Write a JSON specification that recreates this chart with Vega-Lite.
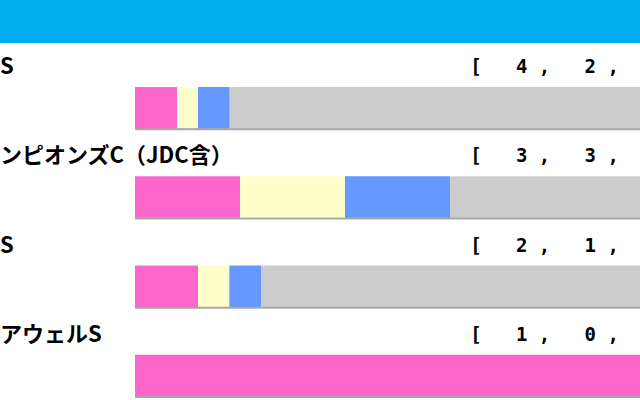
{
  "$schema": "https://vega.github.io/schema/vega-lite/v6.json",
  "padding": 0,
  "spacing": 0,
  "bounds": "flush",
  "background": "#FFFFFF",
  "config": {"view": {"stroke": null}, "concat": {"spacing": 0}},
  "datasets": {
    "segments": [
      {"no": 1, "place": "1着", "rank": 1, "count": 4},
      {"no": 1, "place": "2着", "rank": 2, "count": 2},
      {"no": 1, "place": "3着", "rank": 3, "count": 3},
      {"no": 1, "place": "着外", "rank": 4, "count": 51},
      {"no": 2, "place": "1着", "rank": 1, "count": 3},
      {"no": 2, "place": "2着", "rank": 2, "count": 3},
      {"no": 2, "place": "3着", "rank": 3, "count": 3},
      {"no": 2, "place": "着外", "rank": 4, "count": 9},
      {"no": 3, "place": "1着", "rank": 1, "count": 2},
      {"no": 3, "place": "2着", "rank": 2, "count": 1},
      {"no": 3, "place": "3着", "rank": 3, "count": 1},
      {"no": 3, "place": "着外", "rank": 4, "count": 16},
      {"no": 4, "place": "1着", "rank": 1, "count": 1},
      {"no": 4, "place": "2着", "rank": 2, "count": 0},
      {"no": 4, "place": "3着", "rank": 3, "count": 0},
      {"no": 4, "place": "着外", "rank": 4, "count": 0}
    ],
    "races": [
      {"no": 1, "name": "S", "record": "[\u00a0\u00a0\u00a04\u00a0,\u00a0\u00a0\u00a02\u00a0,"},
      {"no": 2, "name": "ンピオンズC（JDC含）", "record": "[\u00a0\u00a0\u00a03\u00a0,\u00a0\u00a0\u00a03\u00a0,"},
      {"no": 3, "name": "S", "record": "[\u00a0\u00a0\u00a02\u00a0,\u00a0\u00a0\u00a01\u00a0,"},
      {"no": 4, "name": "アウェルS", "record": "[\u00a0\u00a0\u00a01\u00a0,\u00a0\u00a0\u00a00\u00a0,"}
    ]
  },
  "vconcat": [
    {
      "width": 640,
      "height": 43,
      "data": {"values": [{"band": "header"}]},
      "mark": {"type": "rect", "color": "#00ADEE"},
      "encoding": {}
    },
    {
      "width": 640,
      "height": 357,
      "layer": [
        {
          "data": {"name": "races"},
          "mark": {"type": "bar", "height": {"band": 0.46}, "yOffset": 22, "clip": true, "color": "#A8A8A8"},
          "encoding": {
            "y": {"field": "no", "type": "ordinal", "axis": null, "scale": {"paddingInner": 0, "paddingOuter": 0}},
            "x": {"datum": 0, "type": "quantitative", "axis": null, "scale": {"domain": [-0.2143, 0.8016], "nice": false, "zero": false}},
            "x2": {"datum": 1}
          }
        },
        {
          "data": {"name": "segments"},
          "mark": {"type": "bar", "height": {"band": 0.46}, "yOffset": 20, "clip": true},
          "encoding": {
            "y": {"field": "no", "type": "ordinal", "axis": null},
            "x": {"field": "count", "type": "quantitative", "stack": "normalize", "axis": null},
            "color": {"field": "place", "type": "nominal", "legend": null,
              "scale": {"domain": ["1着", "2着", "3着", "着外"], "range": ["#FF66CC", "#FFFFCC", "#6699FF", "#CCCCCC"]}},
            "order": {"field": "rank", "type": "quantitative"}
          }
        },
        {
          "data": {"name": "races"},
          "mark": {"type": "text", "align": "left", "baseline": "middle", "dy": -20.5, "font": "Noto Sans CJK JP", "fontWeight": "bold", "fontSize": 22, "color": "#000000", "clip": true},
          "encoding": {
            "y": {"field": "no", "type": "ordinal"},
            "x": {"datum": -0.2143, "type": "quantitative"},
            "text": {"field": "name"}
          }
        },
        {
          "data": {"name": "races"},
          "mark": {"type": "text", "align": "left", "baseline": "middle", "dy": -20.5, "font": "DejaVu Sans Mono", "fontWeight": "bold", "fontSize": 19, "color": "#000000", "clip": true},
          "encoding": {
            "y": {"field": "no", "type": "ordinal"},
            "x": {"datum": 0.532, "type": "quantitative"},
            "text": {"field": "record"}
          }
        }
      ]
    }
  ]
}
